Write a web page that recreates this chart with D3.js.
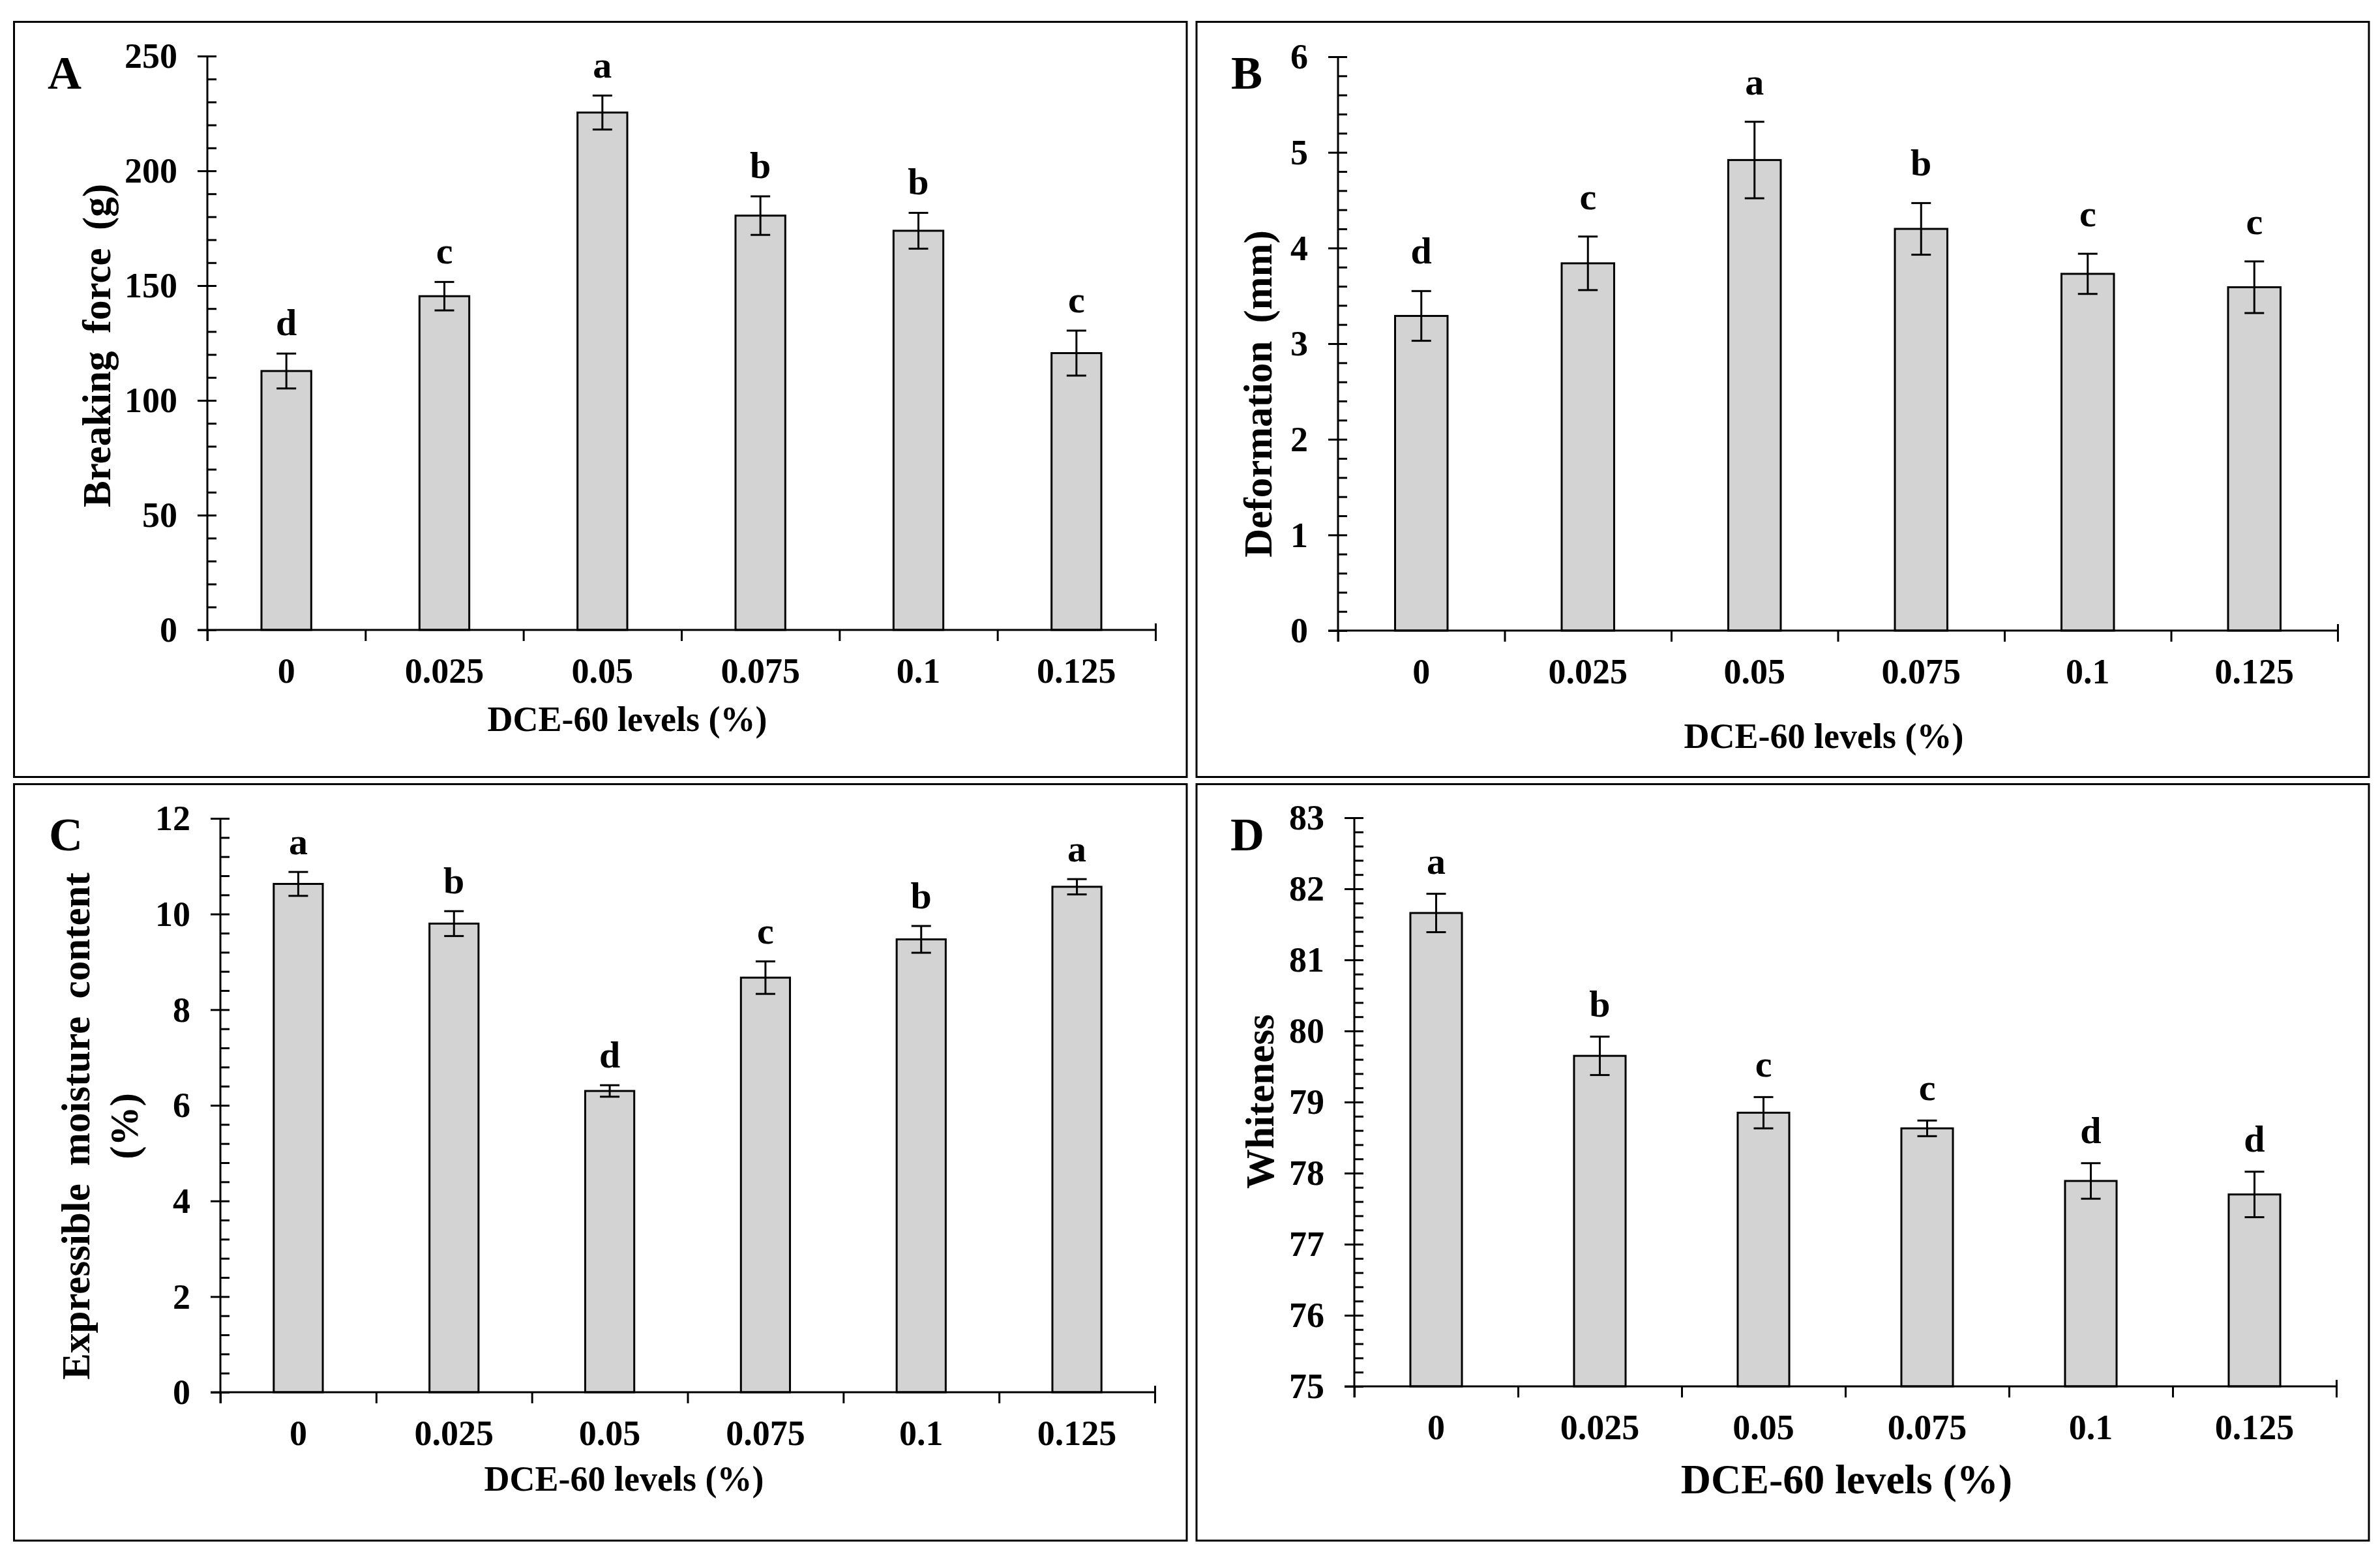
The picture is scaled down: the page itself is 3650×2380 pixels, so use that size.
<!DOCTYPE html>
<html>
<head>
<meta charset="utf-8">
<script src="https://cdn.jsdelivr.net/npm/d3@7"></script>
<style>
  body { margin: 0; background: #fff; }
  text { font-family: "Liberation Serif", "Times New Roman", serif; font-weight: bold; fill: #000; }
</style>
</head>
<body>
<div id="chart"></div>
<script>
// niveles de DCE-60 (eje x, comun a los 4 paneles)
const levels = ["0", "0.025", "0.05", "0.075", "0.1", "0.125"];

// A - breaking force (g)
const breakingForce = [112.8, 145.4, 225.4, 180.5, 173.9, 120.6];
const breakingForceErr = [7.6, 6.2, 7.4, 8.4, 7.8, 9.8];
const breakingForceLetters = ["d", "c", "a", "b", "b", "c"];

// B - deformation (mm)
const deformation = [3.29, 3.84, 4.92, 4.20, 3.73, 3.59];
const deformationErr = [0.26, 0.28, 0.40, 0.27, 0.21, 0.27];
const deformationLetters = ["d", "c", "a", "b", "c", "c"];

// C - expressible moisture content (%)
const moisture = [10.63, 9.80, 6.30, 8.67, 9.47, 10.57];
const moistureErr = [0.25, 0.26, 0.12, 0.34, 0.28, 0.16];
const moistureLetters = ["a", "b", "d", "c", "b", "a"];

// D - whiteness
const whiteness = [81.66, 79.65, 78.85, 78.63, 77.89, 77.70];
const whitenessErr = [0.27, 0.27, 0.22, 0.11, 0.25, 0.32];
const whitenessLetters = ["a", "b", "c", "c", "d", "d"];

const xTitle = "DCE-60 levels (%)";

var width = 3650;
var height = 2380;

var svg = d3.select('#chart')
    .append('svg')
    .attr('width', width)
    .attr('height', height);

// layout de cada panel (posiciones medidas sobre la imagen)
var panels = [
  { tag: 'A', values: breakingForce, errors: breakingForceErr, letters: breakingForceLetters,
    domain: [0, 250], majorStep: 50, minorStep: 10, yLabel: ['Breaking force (g)'],
    frame: [21.5, 33.5, 1798.5, 1158], x0: 318, x1: 1772, yTop: 86, yBot: 966,
    tagPos: [73, 136], yLabelPos: [169, 530], xTitlePos: [962, 1121], xTitleSize: 54, letterGap: 28 },
  { tag: 'B', values: deformation, errors: deformationErr, letters: deformationLetters,
    domain: [0, 6], majorStep: 1, minorStep: 0.2, yLabel: ['Deformation (mm)'],
    frame: [1835, 33.5, 1798, 1158], x0: 2052, x1: 3585, yTop: 87, yBot: 967,
    tagPos: [1888, 136], yLabelPos: [1950, 604], xTitlePos: [2797, 1147], xTitleSize: 54, letterGap: 42 },
  { tag: 'C', values: moisture, errors: moistureErr, letters: moistureLetters,
    domain: [0, 12], majorStep: 2, minorStep: 0.4, yLabel: ['Expressible moisture content', '(%)'],
    frame: [21.5, 1202.5, 1798.5, 1160], x0: 338, x1: 1771, yTop: 1255, yBot: 2135,
    tagPos: [75, 1304], yLabelPos: [137, 1727], xTitlePos: [957, 2286], xTitleSize: 54, letterGap: 27 },
  { tag: 'D', values: whiteness, errors: whitenessErr, letters: whitenessLetters,
    domain: [75, 83], majorStep: 1, minorStep: 0.2, yLabel: ['Whiteness'],
    frame: [1835, 1202.5, 1798, 1160], x0: 2077, x1: 3583, yTop: 1254, yBot: 2126,
    tagPos: [1887, 1304], yLabelPos: [1953, 1689], xTitlePos: [2832, 2290], xTitleSize: 64, letterGap: 31 }
];

panels.forEach(drawPanel);

function stepValues(lo, hi, step) {
  var n = Math.round((hi - lo) / step);
  return d3.range(n + 1).map(i => +(lo + i * step).toFixed(4));
}

function cleanAxis(g) {
  g.select('.domain').remove();
  g.attr('font-family', null).attr('font-size', null);
  g.selectAll('line').attr('stroke', '#000').attr('stroke-width', 3);
}

function drawPanel(p) {
  var g = svg.append('g');

  // marco
  g.append('rect')
    .attr('x', p.frame[0]).attr('y', p.frame[1])
    .attr('width', p.frame[2]).attr('height', p.frame[3])
    .attr('fill', 'none').attr('stroke', '#000').attr('stroke-width', 3);

  var x = d3.scaleBand().domain(levels).range([p.x0, p.x1]).padding(0);
  var xb = d3.scaleLinear().domain([0, levels.length]).range([p.x0, p.x1]);
  var y = d3.scaleLinear().domain(p.domain).range([p.yBot, p.yTop]);

  // eje y: ticks mayores cruzados, menores hacia dentro
  g.append('g')
    .attr('transform', `translate(${p.x0},0)`)
    .call(d3.axisLeft(y).tickValues(stepValues(p.domain[0], p.domain[1], p.majorStep))
      .tickSize(15).tickPadding(31).tickFormat(d3.format('')))
    .call(cleanAxis)
    .selectAll('text').attr('font-size', 54).attr('dy', '0.33em');

  g.append('g')
    .attr('transform', `translate(${p.x0},0)`)
    .call(d3.axisRight(y).tickValues(stepValues(p.domain[0], p.domain[1], p.minorStep))
      .tickSize(14).tickFormat(''))
    .call(cleanAxis);

  // eje x: ticks entre categorias hacia fuera, en el centro hacia dentro
  g.append('g')
    .attr('transform', `translate(0,${p.yBot})`)
    .call(d3.axisBottom(xb).tickValues(d3.range(levels.length + 1)).tickSize(17).tickFormat(''))
    .call(cleanAxis);

  g.append('g')
    .attr('transform', `translate(0,${p.yBot})`)
    .call(d3.axisTop(x).tickSize(10).tickFormat(''))
    .call(cleanAxis);

  g.append('g')
    .attr('transform', `translate(0,${p.yBot})`)
    .call(d3.axisTop(xb).tickValues([levels.length]).tickSize(10).tickFormat(''))
    .call(cleanAxis);

  g.append('g')
    .attr('transform', `translate(0,${p.yBot})`)
    .call(d3.axisBottom(x).tickSize(0).tickPadding(43))
    .call(cleanAxis)
    .selectAll('text').attr('font-size', 54);

  // barras
  var bw = x.bandwidth() * 0.315;
  var cx = (d, i) => x(levels[i]) + x.bandwidth() / 2;

  g.append('g')
    .selectAll('rect')
    .data(p.values)
    .enter()
    .append('rect')
    .attr('x', (d, i) => cx(d, i) - bw / 2)
    .attr('y', d => y(d))
    .attr('width', bw)
    .attr('height', d => y(p.domain[0]) - y(d))
    .attr('fill', '#d3d3d3')
    .attr('stroke', '#000')
    .attr('stroke-width', 3);

  // lineas de los ejes (por encima de las barras)
  g.append('line')
    .attr('x1', p.x0).attr('x2', p.x0)
    .attr('y1', y(p.domain[1])).attr('y2', p.yBot + 17)
    .attr('stroke', '#000').attr('stroke-width', 3);
  g.append('line')
    .attr('x1', p.x0 - 15).attr('x2', p.x1)
    .attr('y1', p.yBot).attr('y2', p.yBot)
    .attr('stroke', '#000').attr('stroke-width', 3);

  // barras de error
  var cap = 15;
  var err = g.append('g').attr('stroke', '#000').attr('stroke-width', 3);
  p.values.forEach(function(v, i) {
    var xc = cx(v, i);
    var hi = y(v + p.errors[i]);
    var lo = y(v - p.errors[i]);
    err.append('line').attr('x1', xc).attr('x2', xc).attr('y1', hi).attr('y2', lo);
    err.append('line').attr('x1', xc - cap).attr('x2', xc + cap).attr('y1', hi).attr('y2', hi);
    err.append('line').attr('x1', xc - cap).attr('x2', xc + cap).attr('y1', lo).attr('y2', lo);
  });

  // letras de significancia
  g.append('g')
    .selectAll('text')
    .data(p.letters)
    .enter()
    .append('text')
    .attr('x', (d, i) => cx(d, i))
    .attr('y', (d, i) => y(p.values[i] + p.errors[i]) - p.letterGap)
    .attr('text-anchor', 'middle')
    .attr('font-size', 58)
    .text(d => d);

  // letra del panel
  g.append('text')
    .attr('x', p.tagPos[0]).attr('y', p.tagPos[1])
    .attr('font-size', 72)
    .text(p.tag);

  // titulo eje x
  g.append('text')
    .attr('x', p.xTitlePos[0]).attr('y', p.xTitlePos[1])
    .attr('text-anchor', 'middle')
    .attr('font-size', p.xTitleSize)
    .text(xTitle);

  // titulo eje y (rotado)
  p.yLabel.forEach(function(line, k) {
    g.append('text')
      .attr('transform', `translate(${p.yLabelPos[0] + k * 74},${p.yLabelPos[1]}) rotate(-90)`)
      .attr('text-anchor', 'middle')
      .attr('font-size', 61)
      .style('word-spacing', '12px')
      .text(line);
  });
}
</script>
</body>
</html>
